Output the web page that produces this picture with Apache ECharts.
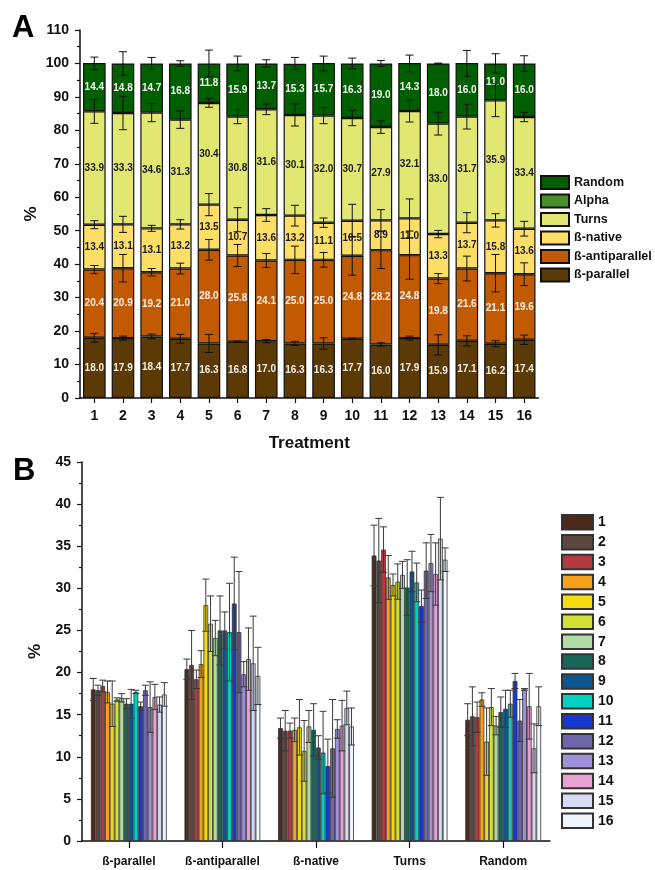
<!DOCTYPE html>
<html>
<head>
<meta charset="UTF-8">
<title>Secondary structure</title>
<script src="https://cdn.jsdelivr.net/npm/echarts@6/dist/echarts.min.js"></script>
<style>
  html, body { margin: 0; padding: 0; background: #fff; }
  #main { width: 655px; height: 870px; }
</style>
</head>
<body>
<div id="main"></div>
<script>
// treatments 1..16 (panel A categories, panel B series)
var treatments = ['1','2','3','4','5','6','7','8','9','10','11','12','13','14','15','16'];
var structures = ['ß-parallel', 'ß-antiparallel', 'ß-native', 'Turns', 'Random'];

// mean % per treatment
var parallel     = [18.0, 17.9, 18.4, 17.7, 16.3, 16.8, 17.0, 16.3, 16.3, 17.7, 16.0, 17.9, 15.9, 17.1, 16.2, 17.4];
var antiparallel = [20.4, 20.9, 19.2, 21.0, 28.0, 25.8, 24.1, 25.0, 25.0, 24.8, 28.2, 24.8, 19.8, 21.6, 21.1, 19.6];
var nativeB      = [13.4, 13.1, 13.1, 13.2, 13.5, 10.7, 13.6, 13.2, 11.1, 10.5, 8.9, 11.0, 13.3, 13.7, 15.8, 13.6];
var turns        = [33.9, 33.3, 34.6, 31.3, 30.4, 30.8, 31.6, 30.1, 32.0, 30.7, 27.9, 32.1, 33.0, 31.7, 35.9, 33.4];
var random       = [14.4, 14.8, 14.7, 16.8, 11.8, 15.9, 13.7, 15.3, 15.7, 16.3, 19.0, 14.3, 18.0, 16.0, 11.0, 16.0];

// standard deviations
var parallelSd     = [1.3, 0.6, 0.7, 1.3, 2.7, 0.2, 0.5, 0.6, 1.7, 0.2, 0.5, 0.6, 3.0, 1.5, 0.9, 1.4];
var antiparallelSd = [1.2, 4.1, 1.1, 1.6, 3.1, 3.3, 2.1, 4.1, 2.2, 5.8, 5.5, 7.2, 1.5, 3.7, 5.6, 3.4];
var nativeSd       = [1.2, 2.4, 0.9, 1.4, 3.3, 3.6, 1.9, 3.1, 1.4, 4.9, 3.2, 5.8, 1.1, 3.0, 2.0, 2.2];
var turnsSd        = [3.6, 5.0, 2.7, 2.6, 1.3, 2.1, 1.6, 3.3, 2.4, 2.3, 1.9, 3.3, 3.4, 3.7, 4.9, 1.4];
var randomSd       = [1.9, 3.5, 1.8, 0.8, 4.0, 2.2, 1.1, 1.8, 2.2, 1.6, 0.9, 2.5, 0.1, 3.9, 2.9, 2.3];

var yTicksA = [0, 110, 10];
var yTicksB = [0, 45, 5];

var FONT = '"Liberation Sans", Arial, sans-serif';

// panel A colours
var colA = {
  'ß-parallel': '#5b3a06',
  'ß-antiparallel': '#c25a02',
  'ß-native': '#fddf68',
  'Turns': '#e2e772',
  'Alpha': '#4b8f29',
  'Random': '#006000'
};
var labelColA = {
  'ß-parallel': '#f4efe8',
  'ß-antiparallel': '#fbeee6',
  'ß-native': '#1a1a1a',
  'Turns': '#1a1a1a',
  'Random': '#f2f7f2'
};
// panel B colours, one per treatment
var colB = ['#4a2a1b', '#5e4640', '#b33a3e', '#f7a11a', '#f5da10', '#d3e036', '#b0dca6', '#176658',
            '#0b5591', '#00d2c1', '#1838d4', '#6f66ac', '#a08fd9', '#e8a2d2', '#d7daf4', '#eef5fc'];

var means = [parallel, antiparallel, nativeB, turns, random];
var sds = [parallelSd, antiparallelSd, nativeSd, turnsSd, randomSd];

var myChart = echarts.init(document.getElementById('main'));

// error bars for the stacked chart
var errA = [];
for (var t = 0; t < treatments.length; t++) {
  var cum = 0;
  for (var k = 0; k < means.length; k++) {
    cum += means[k][t];
    errA.push([t, k === means.length - 1 ? 100 : cum, sds[k][t]]);
  }
}
// error bars for the grouped chart
var errB = [];
for (var s = 0; s < treatments.length; s++) {
  for (var c = 0; c < structures.length; c++) {
    errB.push([c, s, means[c][s], sds[c][s]]);
  }
}

function errLines(x, yHi, yLo, w, color, lw) {
  var st = { stroke: color, lineWidth: lw };
  return {
    type: 'group',
    children: [
      { type: 'line', shape: { x1: x, y1: yHi, x2: x, y2: yLo }, style: st },
      { type: 'line', shape: { x1: x - w, y1: yHi, x2: x + w, y2: yHi }, style: st },
      { type: 'line', shape: { x1: x - w, y1: yLo, x2: x + w, y2: yLo }, style: st }
    ]
  };
}

var gapB = 0.19;

function axisCommon() {
  return {
    axisLine: { show: true, lineStyle: { color: '#111', width: 1.5 } },
    axisTick: { show: true, length: 5, lineStyle: { color: '#111', width: 1.2 } },
    splitLine: { show: false }
  };
}

var series = [];
['ß-parallel', 'ß-antiparallel', 'ß-native', 'Turns'].forEach(function (nm, k) {
  series.push({
    name: nm, type: 'bar', stack: 'A', xAxisIndex: 0, yAxisIndex: 0,
    barCategoryGap: '21%',
    data: means[k],
    itemStyle: { color: colA[nm], borderColor: '#111', borderWidth: 1.2 },
    label: {
      show: true, position: 'inside', color: labelColA[nm],
      fontFamily: FONT, fontWeight: 'bold', fontSize: 10,
      formatter: function (p) { return p.value.toFixed(1); }
    }
  });
});
series.push({
  name: 'Alpha', type: 'bar', stack: 'A', xAxisIndex: 0, yAxisIndex: 0, data: [],
  itemStyle: { color: colA['Alpha'], borderColor: '#111', borderWidth: 1.2 }
});
series.push({
  name: 'Random', type: 'bar', stack: 'A', xAxisIndex: 0, yAxisIndex: 0,
  data: random,
  itemStyle: { color: colA['Random'], borderColor: '#111', borderWidth: 1.2 },
  label: {
    show: true, position: 'inside', color: labelColA['Random'],
    fontFamily: FONT, fontWeight: 'bold', fontSize: 10,
    formatter: function (p) { return p.value.toFixed(1); }
  }
});
series.push({
  name: 'errA', type: 'custom', xAxisIndex: 0, yAxisIndex: 0, z: 10,
  encode: { x: 0, y: 1 },
  data: errA,
  renderItem: function (params, api) {
    var x = api.value(0), y = api.value(1), e = api.value(2);
    var hi = api.coord([x, y + e]), lo = api.coord([x, y - e]);
    return errLines(hi[0], hi[1], lo[1], 4, '#111', 1);
  }
});

treatments.forEach(function (nm, s) {
  series.push({
    name: nm, type: 'bar', xAxisIndex: 1, yAxisIndex: 1,
    barCategoryGap: (gapB * 100) + '%', barGap: 0,
    data: means.map(function (arr) { return arr[s]; }),
    itemStyle: { color: colB[s], borderColor: '#333', borderWidth: 0.8 }
  });
});
series.push({
  name: 'errB', type: 'custom', xAxisIndex: 1, yAxisIndex: 1, z: 10,
  encode: { x: 0, y: 2 },
  data: errB,
  renderItem: function (params, api) {
    var cat = api.value(0), s = api.value(1), v = api.value(2), e = api.value(3);
    var band = api.size([1, 0])[0];
    var groupW = band * (1 - gapB);
    var bw = groupW / treatments.length;
    var c = api.coord([cat, v]);
    var x = c[0] - groupW / 2 + (s + 0.5) * bw;
    var hi = api.coord([cat, v + e])[1], lo = api.coord([cat, v - e])[1];
    return errLines(x, hi, lo, 3.5, '#3a3a3a', 1);
  }
});

var option = {
  backgroundColor: '#fff',
  animation: false,
  textStyle: { fontFamily: FONT },
  graphic: [
    { type: 'text', left: 12, top: 13, style: { text: 'A', font: 'bold 31px ' + FONT, fill: '#000' } },
    { type: 'text', left: 13, top: 456, style: { text: 'B', font: 'bold 31px ' + FONT, fill: '#000' } }
  ],
  legend: [
    {
      data: ['Random', 'Alpha', 'Turns', 'ß-native', 'ß-antiparallel', 'ß-parallel'],
      orient: 'vertical', left: 540, top: 175, padding: 0,
      itemWidth: 28, itemHeight: 13, itemGap: 3.5, icon: 'rect',
      textStyle: { fontFamily: FONT, fontWeight: 'bold', fontSize: 12.5, color: '#111', lineHeight: 13 }
    },
    {
      data: treatments,
      orient: 'vertical', left: 561, top: 514, padding: 0,
      itemWidth: 31, itemHeight: 14.5, itemGap: 3.4, icon: 'rect',
      textStyle: { fontFamily: FONT, fontWeight: 'bold', fontSize: 14, color: '#111', lineHeight: 14.5 }
    }
  ],
  grid: [
    { left: 80, right: 116.5, top: 30, bottom: 472 },
    { left: 82, right: 105, top: 462, bottom: 29 }
  ],
  xAxis: [
    Object.assign(axisCommon(), {
      type: 'category', gridIndex: 0, data: treatments,
      axisTick: { show: true, alignWithLabel: true, length: 5, lineStyle: { color: '#111', width: 1.2 } },
      axisLabel: { fontFamily: FONT, fontWeight: 'bold', fontSize: 14, color: '#111', margin: 11, interval: 0 },
      name: 'Treatment', nameLocation: 'middle', nameGap: 37,
      nameTextStyle: { fontFamily: FONT, fontWeight: 'bold', fontSize: 17, color: '#111' }
    }),
    Object.assign(axisCommon(), {
      type: 'category', gridIndex: 1, data: structures,
      axisTick: { show: true, alignWithLabel: true, length: 7, interval: 0, lineStyle: { color: '#111', width: 1.2 } },
      axisLabel: { fontFamily: FONT, fontWeight: 'bold', fontSize: 12, color: '#111', margin: 15, interval: 0 }
    })
  ],
  yAxis: [
    Object.assign(axisCommon(), {
      type: 'value', gridIndex: 0, min: yTicksA[0], max: yTicksA[1], interval: yTicksA[2],
      minorTick: { show: true, splitNumber: 2, length: 3, lineStyle: { color: '#111', width: 1.2 } },
      axisLabel: { fontFamily: FONT, fontWeight: 'bold', fontSize: 14, color: '#111', margin: 11 },
      name: '%', nameLocation: 'middle', nameGap: 40, nameMoveOverlap: false,
      nameTextStyle: { fontFamily: FONT, fontWeight: 'bold', fontSize: 17, color: '#111' }
    }),
    Object.assign(axisCommon(), {
      type: 'value', gridIndex: 1, min: yTicksB[0], max: yTicksB[1], interval: yTicksB[2],
      minorTick: { show: true, splitNumber: 2, length: 3, lineStyle: { color: '#111', width: 1.2 } },
      axisLabel: { fontFamily: FONT, fontWeight: 'bold', fontSize: 14, color: '#111', margin: 11 },
      name: '%', nameLocation: 'middle', nameGap: 38, nameMoveOverlap: false,
      nameTextStyle: { fontFamily: FONT, fontWeight: 'bold', fontSize: 17, color: '#111' }
    })
  ],
  series: series
};

myChart.setOption(option);
</script>
</body>
</html>
